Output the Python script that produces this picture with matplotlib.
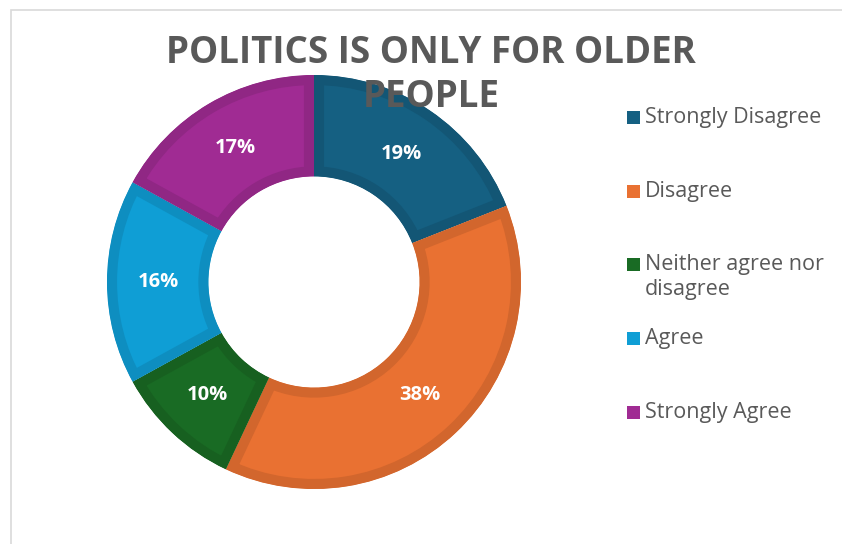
import matplotlib
matplotlib.use("Agg")
import matplotlib.pyplot as plt
from matplotlib.patches import Rectangle
from matplotlib.colors import to_rgb

plt.rcParams['font.family'] = ['Open Sans', 'DejaVu Sans']

categories = ['Strongly Disagree', 'Disagree', 'Neither agree nor\ndisagree', 'Agree', 'Strongly Agree']
shares = [19, 38, 10, 16, 17]
colors = ['#156082', '#E97132', '#196B24', '#0F9ED5', '#A02B93']
title_lines = ['POLITICS IS ONLY FOR OLDER', 'PEOPLE']

W, H = 842, 544
fig = plt.figure(figsize=(W / 100, H / 100), dpi=100)

# light grey chart frame, opening off the right and bottom edges
fig.patches.append(Rectangle((11 / W, -0.2), 1.5, 1.2 - 10 / H, transform=fig.transFigure,
                             fill=False, edgecolor='#D9D9D9', linewidth=1.2))


def darker(c, f=0.9):
    return tuple(v * f for v in to_rgb(c))


# donut: centre (314, 282) px, outer radius 207 px
cx, cy, r = 314, 282, 207
ax = fig.add_axes([(cx - r) / W, (H - cy - r) / H, 2 * r / W, 2 * r / H])
wedges, texts, autotexts = ax.pie(shares, colors=colors, startangle=90, counterclock=False,
                                  radius=1, autopct='%1.0f%%', pctdistance=0.75,
                                  wedgeprops=dict(width=0.49))
for w, c in zip(wedges, colors):
    w.set_edgecolor(darker(c))
    w.set_linewidth(14.5)
    w.set_joinstyle('miter')
    w.set_clip_on(True)
    w.set_clip_path(w)   # keep only the inner half of the stroke
for t in autotexts:
    t.set_color('white')
    t.set_fontweight('bold')
    t.set_fontsize(14.5)
ax.set_xlim(-1, 1)
ax.set_ylim(-1, 1)
ax.set_aspect('equal')
ax.axis('off')

# title, one text per line so each box stays tight
for i, line in enumerate(title_lines):
    fig.text(431 / W, 1 - (53 + 44 * i) / H, line, ha='center', va='center', fontsize=26.5,
             fontweight='bold', color='#595959', zorder=10)

# legend, markers evenly spaced, text hanging from the first line
y0, step = 117, 73.7
for i, (lab, c) in enumerate(zip(categories, colors)):
    ym = y0 + i * step
    fig.patches.append(Rectangle((627 / W, 1 - (ym + 7) / H), 13 / W, 13 / H,
                                 transform=fig.transFigure, facecolor=c, edgecolor='none'))
    fig.text(645 / W, 1 - (ym - 10) / H, lab, ha='left', va='top', fontsize=15.5,
             color='#595959', linespacing=1.2)

fig.savefig('out.png', dpi=100)
